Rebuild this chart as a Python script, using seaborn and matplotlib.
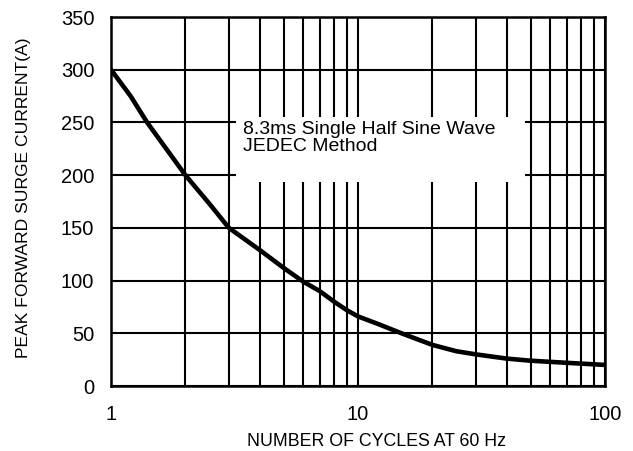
import matplotlib
matplotlib.use("Agg")
import matplotlib.pyplot as plt
import seaborn as sns
import numpy as np
import pandas as pd
from matplotlib.patches import Rectangle
from matplotlib.ticker import FixedLocator, NullFormatter, FixedFormatter

cycles = [1, 1.2, 1.4, 2, 2.5, 3, 4, 5, 6, 7, 8, 9, 10, 12, 15, 20, 25, 30, 40, 50, 70, 100]
surge_current = [300, 275, 250, 200, 173, 150, 129, 112, 99, 90, 80, 72, 66, 59, 50, 39, 33, 30, 26, 24, 22, 20]
x_ticks = [1, 10, 100]
x_tick_labels = ["1", "10", "100"]
y_ticks = [0, 50, 100, 150, 200, 250, 300, 350]
annotation = "8.3ms Single Half Sine Wave\nJEDEC Method"
x_label = "NUMBER OF CYCLES AT 60 Hz"
y_label = "PEAK FORWARD SURGE CURRENT(A)"

sns.set_theme(style="white")
plt.rcParams["font.family"] = ["Liberation Sans", "DejaVu Sans"]

df = pd.DataFrame({"cycles": cycles, "current": surge_current})

fig = plt.figure(figsize=(6.33, 4.51), dpi=100)
ax = fig.add_axes([0.1754, 0.1441, 0.9558 - 0.1754, 0.9623 - 0.1441])

sns.lineplot(data=df, x="cycles", y="current", ax=ax, color="black", linewidth=3.3, zorder=5)

ax.set_xscale("log")
ax.set_xlim(1, 100)
ax.set_ylim(0, 350)
minor = [m * d for d in (1, 10) for m in range(2, 10)]
ax.xaxis.set_major_locator(FixedLocator(x_ticks))
ax.xaxis.set_major_formatter(FixedFormatter(x_tick_labels))
ax.xaxis.set_minor_locator(FixedLocator(minor))
ax.xaxis.set_minor_formatter(NullFormatter())
ax.set_yticks(y_ticks)
ax.grid(True, which="both", axis="x", color="black", linewidth=1.5)
ax.grid(True, which="major", axis="y", color="black", linewidth=1.5)
ax.set_axisbelow(True)

for s in ax.spines.values():
    s.set_color("black")
    s.set_linewidth(1.8)

ax.tick_params(axis="both", which="both", length=0, labelsize=14.5, colors="black")
ax.tick_params(axis="x", pad=14)
ax.tick_params(axis="y", pad=12)

ax.set_xlabel(x_label, fontsize=12.8, color="black")
ax.set_ylabel(y_label, fontsize=12.6, color="black")
ax.xaxis.set_label_coords(0.538, -0.127)
ax.yaxis.set_label_coords(-0.162, 0.51)

ax.add_patch(Rectangle((0.253, 0.553), 0.838 - 0.253, 0.729 - 0.553, transform=ax.transAxes,
                       facecolor="white", edgecolor="none", zorder=3))
ax.text(0.267, 0.717, annotation, transform=ax.transAxes, fontsize=14, va="top", ha="left",
        linespacing=0.98, zorder=6, color="black")

fig.savefig("out.png", dpi=100)
